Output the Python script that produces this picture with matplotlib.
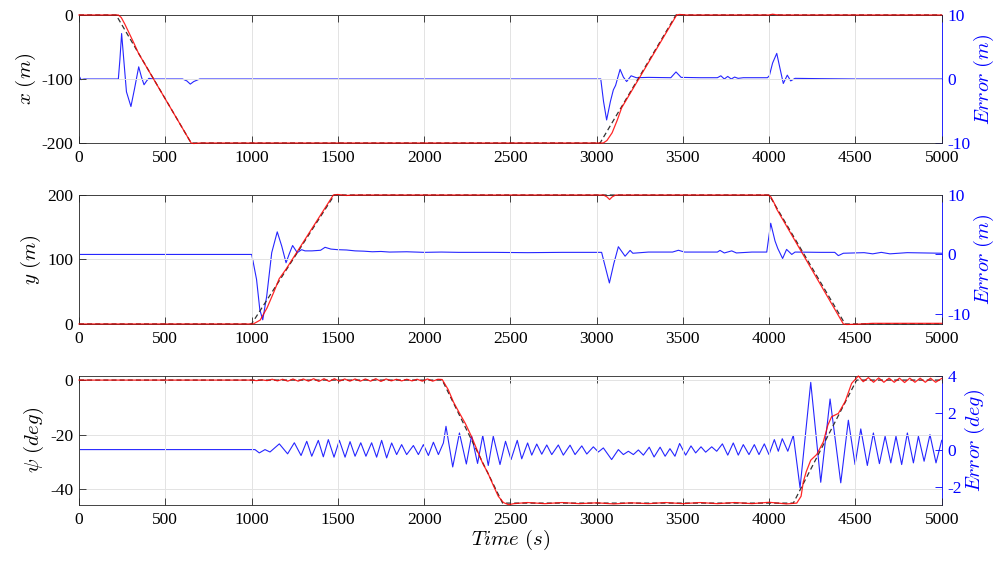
import matplotlib
matplotlib.use("Agg")
import matplotlib.pyplot as plt

plt.rcParams['font.family'] = ['Liberation Serif', 'DejaVu Serif']
plt.rcParams['mathtext.fontset'] = 'cm'
plt.rcParams['axes.unicode_minus'] = False

# ---------------- data ----------------
x_ticks = [0, 500, 1000, 1500, 2000, 2500, 3000, 3500, 4000, 4500, 5000]

# panel 1 : x position
ref_x_t = [0, 215, 650, 3020, 3460, 5000]
ref_x_v = [0, 0, -200, -200, 0, 0]
act_x_t = [0, 228, 245, 265, 290, 320, 345, 650, 665, 700, 3039, 3060, 3090, 3120, 3145,
           3464, 3480, 3520, 4000, 4020, 4040, 4060, 5000]
act_x_v = [0, 0, -4, -14, -28, -45, -60, -200, -200.8, -200, -200, -196, -184, -164, -145,
           0, 0.8, 0, 0, 1.2, 0.4, 0, 0]
err_x_t = [0, 12, 30, 228, 237, 247, 258, 275, 301, 322, 346, 362, 377, 392, 405, 430,
           600, 625, 645, 665, 700, 3024, 3040, 3058, 3080, 3097, 3110, 3136, 3155, 3174,
           3200, 3230, 3300, 3430, 3460, 3490, 3600, 3700, 3720, 3740, 3760, 3780, 3800,
           3820, 3850, 3990, 4001, 4020, 4044, 4060, 4082, 4105, 4125, 4150, 4300, 4500, 5000]
err_x_v = [0.5, -0.1, 0, 0, 3.0, 7.1, 3.5, -2.0, -4.3, -1.5, 1.9, 0.3, -0.9, -0.3, 0.1, 0,
           0, -0.3, -0.8, -0.4, 0, 0, -3.5, -6.4, -3.5, -1.7, -1.0, 1.5, 0.3, -0.4,
           0.5, 0.2, 0.25, 0.2, 1.1, 0.25, 0.2, 0.2, 0.5, 0.0, 0.4, 0.0, 0.3,
           0.1, 0.2, 0.2, 0.5, 2.5, 4.0, 2.0, -0.7, 0.6, -0.3, 0.1, 0.05, 0.0, 0.0]

# panel 2 : y position
ref_y_t = [0, 1000, 1480, 4000, 4440, 5000]
ref_y_v = [0, 0, 200, 200, 0, 0]
act_y_t = [0, 1010, 1050, 1090, 1130, 1160, 1200, 1474, 1500, 1550, 1600, 3040, 3060, 3075,
           3090, 3110, 3995, 4010, 4030, 4044, 4430, 4450, 4500, 4600, 5000]
act_y_v = [0, 0, 6, 25, 50, 70, 85, 200, 200.8, 199.3, 200, 200, 197, 193,
           197, 200, 200, 197, 187, 178, 0, -0.8, -0.4, 1, 1]
err_y_t = [0, 1001, 1029, 1048, 1065, 1088, 1117, 1149, 1175, 1200, 1220, 1238, 1265, 1290,
           1310, 1350, 1400, 1426, 1460, 1500, 1550, 1600, 1650, 1700, 1750, 1800, 1900,
           2000, 2100, 2200, 2400, 2600, 2800, 3029, 3045, 3074, 3100, 3126, 3165, 3194,
           3210, 3300, 3440, 3474, 3510, 3700, 3715, 3740, 3783, 3810, 3900, 3986, 4009,
           4034, 4050, 4078, 4101, 4131, 4150, 4300, 4380, 4401, 4430, 4550, 4600, 4650,
           4700, 4800, 5000]
err_y_v = [0, 0, -4.2, -9.3, -11.0, -7.0, 0.3, 3.8, 1.4, -1.4, 0.2, 1.5, 0.3, 0.8,
           0.6, 0.6, 0.7, 1.2, 0.9, 0.8, 0.75, 0.6, 0.55, 0.45, 0.5, 0.4, 0.45,
           0.35, 0.4, 0.35, 0.35, 0.3, 0.35, 0.35, -1.5, -4.8, -1.5, 1.3, -0.3, 0.68,
           0.2, 0.4, 0.4, 0.7, 0.4, 0.4, 0.68, 0.25, 0.6, 0.25, 0.4, 0.4, 5.25,
           2.26, 1.0, -0.68, 0.85, 0.0, 0.4, 0.35, 0.35, -0.2, 0.2, 0.3, 0.1, 0.35,
           0.1, 0.3, 0.2]

# panel 3 : heading
ref_p_t = [0, 2105, 2455, 4140, 4507, 5000]
ref_p_v = [0, 0, -45, -45, 0, 0]
act_p_t = [0, 1000, 1030, 1060, 1090, 1120, 1150, 1180, 1210, 1240, 1270, 1300, 1330, 1360,
           1390, 1420, 1450, 1480, 1510, 1540, 1570, 1600, 1630, 1660, 1690, 1720, 1750,
           1780, 1810, 1840, 1870, 1900, 1930, 1960, 1990, 2020, 2050, 2080, 2105,
           2140, 2170, 2200, 2240, 2276, 2300, 2340, 2370, 2401, 2430, 2460, 2490, 2520,
           2600, 2700, 2800, 2900, 3000, 3100, 3200, 3300, 3400, 3500, 3600, 3700, 3800,
           3900, 4000, 4100, 4160, 4185, 4198, 4215, 4241, 4276, 4314, 4340, 4362, 4401,
           4440, 4478, 4517, 4545, 4575, 4605, 4635, 4665, 4695, 4725, 4755, 4785, 4815,
           4845, 4875, 4905, 4935, 4965, 5000]
act_p_v = [0, 0, -0.2, 0.1, -0.2, 0.3, -0.3, 0.3, -0.4, 0.4, -0.4, 0.4, -0.4, 0.5,
           -0.5, 0.5, -0.5, 0.5, -0.4, 0.4, -0.4, 0.4, -0.4, 0.4, -0.4, 0.5, -0.5,
           0.4, -0.3, 0.3, -0.3, 0.3, -0.3, 0.3, -0.4, 0.4, -0.4, 0.3, 0.2,
           -3.5, -8.0, -11.5, -16.0, -20.8, -24.5, -30.5, -34.0, -38.5, -42.5, -44.8, -45.6, -45.2,
           -44.8, -45.2, -44.8, -45.2, -44.9, -45.3, -44.9, -45.2, -44.8, -45.2, -44.8, -45.2, -44.8,
           -45.2, -44.7, -45.3, -45.0, -42.5, -37.2, -33.5, -29.3, -27.2, -22.6, -16.5, -13.4, -12.2,
           -7.9, -1.2, 1.5, -0.6, 0.9, -0.8, 0.8, -0.8, 0.7, -0.8, 0.7, -0.9, 0.7,
           -0.8, 0.7, -0.8, 0.7, -0.8, 0.6]
err_p_t = [0, 1020, 1045, 1078, 1107, 1161, 1209, 1248, 1287, 1320, 1349, 1387, 1416, 1445,
           1478, 1509, 1542, 1571, 1600, 1633, 1663, 1696, 1725, 1754, 1783, 1812, 1841,
           1870, 1899, 1938, 1967, 1996, 2025, 2054, 2083, 2112, 2127, 2166, 2205, 2245,
           2275, 2310, 2340, 2372, 2401, 2440, 2472, 2504, 2540, 2566, 2600, 2624, 2653,
           2682, 2711, 2740, 2778, 2807, 2846, 2875, 2914, 2943, 2981, 3010, 3039, 3087,
           3126, 3155, 3184, 3213, 3242, 3271, 3305, 3333, 3368, 3397, 3425, 3454, 3481,
           3516, 3547, 3574, 3605, 3632, 3667, 3696, 3729, 3760, 3792, 3821, 3850, 3883,
           3914, 3941, 3972, 3999, 4030, 4053, 4076, 4108, 4140, 4179, 4241, 4299, 4353,
           4415, 4459, 4498, 4531, 4569, 4604, 4639, 4672, 4705, 4735, 4768, 4801, 4836,
           4865, 4898, 4932, 4967, 5000]
err_p_v = [0, 0, -0.18, 0.0, -0.13, 0.31, -0.23, 0.37, -0.32, 0.45, -0.36, 0.5, -0.39, 0.54,
           -0.41, 0.5, -0.41, 0.43, -0.36, 0.37, -0.36, 0.37, -0.41, 0.5, -0.45, 0.36, -0.27,
           0.27, -0.27, 0.22, -0.27, 0.27, -0.32, 0.40, -0.27, 0.36, 1.26, -0.94, 0.9, -0.78,
           0.75, -0.75, 0.76, -0.86, 0.72, -0.81, 0.45, -0.54, 0.5, -0.5, 0.36, -0.3, 0.3,
           -0.25, 0.25, -0.27, 0.25, -0.3, 0.24, -0.27, 0.2, -0.24, 0.15, -0.13, 0.09, -0.54,
           0.0, -0.27, -0.09, -0.27, -0.02, -0.3, 0.13, -0.4, 0.13, -0.36, 0.05, -0.36, 0.33,
           -0.3, 0.2, -0.18, 0.15, -0.14, 0.15, -0.09, 0.31, -0.3, 0.36, -0.3, 0.27, -0.27,
           0.27, -0.27, 0.31, -0.27, 0.54, -0.09, 0.59, -0.09, 0.77, -2.07, 3.64, -1.77, 2.74,
           -1.8, 1.59, -0.81, 1.12, -0.86, 0.9, -0.76, 0.72, -0.72, 0.72, -0.81, 0.9, -0.72,
           0.72, -0.63, 0.81, -0.72, 0.5]

panels = [
    dict(ref=(ref_x_t, ref_x_v), act=(act_x_t, act_x_v), err=(err_x_t, err_x_v),
         ylim=(-200, 0), yticks=[-200, -100, 0], ylab=r'$x\ (m)$',
         rlim=(-10, 10), rticks=[-10, 0, 10], rlab=r'$Error\ (m)$'),
    dict(ref=(ref_y_t, ref_y_v), act=(act_y_t, act_y_v), err=(err_y_t, err_y_v),
         ylim=(0, 200), yticks=[0, 100, 200], ylab=r'$y\ (m)$',
         rlim=(-11.7, 10), rticks=[-10, 0, 10], rlab=r'$Error\ (m)$'),
    dict(ref=(ref_p_t, ref_p_v), act=(act_p_t, act_p_v), err=(err_p_t, err_p_v),
         ylim=(-45.7, 1.6), yticks=[-40, -20, 0], ylab=r'$\psi\ (deg)$',
         rlim=(-3, 4), rticks=[-2, 0, 2, 4], rlab=r'$Error\ (deg)$'),
]

# ---------------- figure ----------------
fig = plt.figure(figsize=(10, 5.61), dpi=100)
boxes = [(0.079, 0.7451, 0.8627, 0.2282),
         (0.079, 0.4225, 0.8627, 0.2299),
         (0.079, 0.0998, 0.8627, 0.2305)]
dark = '#262626'
blue = '#0000ff'
tick_fs = 12.5
lab_fs = 15

for i, (p, box) in enumerate(zip(panels, boxes)):
    ax = fig.add_axes(box)
    axr = ax.twinx()
    ax.set_zorder(axr.get_zorder() + 1)
    ax.patch.set_visible(False)

    axr.plot(*p['err'], color=blue, lw=0.8, alpha=0.85)
    ax.plot(*p['ref'], color='#333333', lw=0.9, ls=(0, (4, 2.5)), zorder=3, clip_on=False)
    ax.plot(*p['act'], color='#ff0000', lw=0.9, alpha=0.85, zorder=4, clip_on=False)

    ax.set_xlim(0, 5000)
    ax.set_xticks(x_ticks)
    ax.set_ylim(*p['ylim'])
    ax.set_yticks(p['yticks'])
    axr.set_ylim(*p['rlim'])
    axr.set_yticks(p['rticks'])

    ax.grid(True, color='#e3e3e3', lw=0.7)
    ax.set_axisbelow(True)

    ax.tick_params(axis='both', direction='in', length=5, width=0.6, color=dark,
                   labelsize=tick_fs, labelcolor='black', top=True, right=False, pad=5)
    ax.tick_params(axis='y', pad=4)
    axr.tick_params(axis='y', direction='in', length=5, width=0.6, color=blue,
                    labelsize=tick_fs, labelcolor=blue, pad=4)
    axr.tick_params(axis='x', top=False, bottom=False)

    for s in ['left', 'top', 'bottom']:
        ax.spines[s].set_color(dark)
        ax.spines[s].set_linewidth(0.6)
        axr.spines[s].set_visible(False)
    ax.spines['right'].set_visible(False)
    axr.spines['right'].set_color(blue)
    axr.spines['right'].set_linewidth(0.6)

    ax.set_ylabel(p['ylab'], fontsize=lab_fs, color='black', labelpad=3)
    axr.set_ylabel(p['rlab'], fontsize=lab_fs - 0.5, color=blue, labelpad=1)
    if i == 2:
        ax.set_xlabel(r'$Time\ (s)$', fontsize=lab_fs, labelpad=0)

fig.savefig('out.png', dpi=100)
